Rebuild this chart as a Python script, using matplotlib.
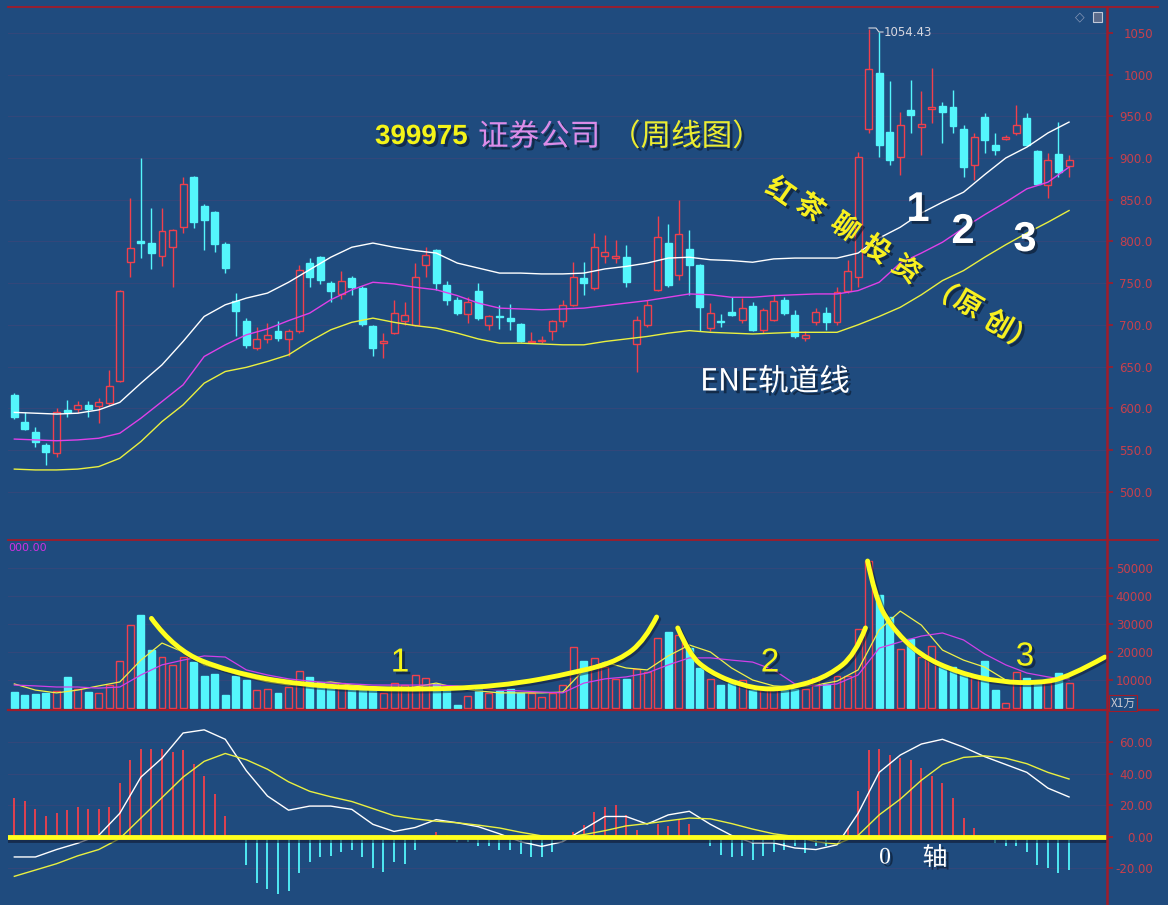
import matplotlib
matplotlib.use("Agg")
import matplotlib.pyplot as plt
import matplotlib.patheffects as pe
from matplotlib.patches import Rectangle, PathPatch
from matplotlib.path import Path
from matplotlib.lines import Line2D
import numpy as np

plt.rcParams['font.family'] = ['Noto Sans CJK SC', 'DejaVu Sans']

BG = '#1f4b7e'
RED = '#f0404c'
CYAN = '#54f6fc'
AXRED = '#a01c2a'
TICKRED = '#c8404c'
GRID = '#34477a'
YEL = '#f4f428'
MAG = '#e040e8'
W, H = 1168, 905

# weekly candles (399975)
opens = [616, 584, 572, 556, 546, 598, 599, 604, 603, 606,
         633, 775, 800, 798, 783, 793, 817, 877, 843, 835,
         797, 728, 705, 672, 683, 692, 683, 692, 774, 781,
         750, 737, 756, 744, 698, 678, 690, 705, 700, 772,
         790, 748, 730, 713, 741, 700, 711, 708, 701, 679,
         680, 692, 705, 724, 756, 744, 783, 780, 781, 677,
         700, 742, 798, 760, 791, 772, 696, 705, 715, 706,
         723, 694, 706, 730, 712, 684, 703, 714, 703, 741,
         757, 935, 1002, 931, 901, 958, 937, 959, 962, 961,
         935, 892, 949, 916, 923, 930, 948, 908, 868, 905, 890]
highs = [618, 596, 578, 558, 600, 610, 609, 609, 612, 646,
         742, 852, 900, 840, 840, 815, 877, 878, 845, 836,
         799, 738, 708, 697, 702, 705, 695, 772, 780, 783,
         752, 764, 758, 746, 700, 690, 730, 727, 774, 793,
         791, 752, 733, 733, 750, 712, 724, 725, 702, 691,
         686, 706, 730, 775, 775, 810, 808, 802, 796, 710,
         730, 831, 821, 850, 814, 773, 726, 713, 733, 732,
         727, 720, 736, 733, 718, 692, 720, 721, 745, 778,
         907, 1054.43, 1051, 992, 955, 994, 980, 1008, 967, 982,
         940, 930, 954, 930, 928, 964, 954, 909, 906, 943, 904]
lows = [587, 574, 554, 532, 542, 590, 594, 590, 582, 604,
        632, 757, 780, 767, 771, 745, 810, 816, 790, 787,
        762, 686, 672, 670, 678, 680, 662, 690, 745, 749,
        727, 731, 736, 698, 662, 660, 689, 700, 698, 757,
        742, 724, 712, 702, 706, 694, 695, 694, 679, 678,
        678, 682, 697, 722, 736, 742, 774, 774, 745, 643,
        697, 740, 745, 754, 736, 692, 692, 697, 711, 702,
        692, 690, 704, 712, 684, 681, 700, 694, 700, 738,
        745, 930, 901, 891, 879, 930, 904, 942, 918, 930,
        877, 874, 906, 904, 921, 928, 914, 868, 852, 877, 877]
closes = [590, 575, 559, 548, 595, 595, 604, 599, 607, 627,
          741, 792, 798, 786, 812, 814, 869, 823, 826, 797,
          768, 716, 676, 683, 688, 684, 693, 766, 757, 754,
          740, 753, 745, 701, 672, 681, 714, 712, 757, 784,
          750, 730, 714, 727, 708, 710, 709, 705, 680, 681,
          682, 704, 724, 757, 750, 793, 787, 782, 751, 706,
          724, 805, 748, 809, 772, 721, 714, 703, 712, 720,
          694, 718, 728, 714, 686, 688, 715, 703, 739, 765,
          901, 1007, 915, 898, 939, 952, 941, 961, 955, 938,
          889, 925, 921, 910, 925, 939, 916, 869, 897, 883, 897]
volume = [5700, 4600, 5000, 5400, 6100, 11200, 6700, 5800, 5400, 8300,
          16800, 29600, 33200, 20700, 18300, 15300, 18300, 16400, 11400, 12100,
          4600, 11400, 10000, 6400, 6800, 5400, 7500, 13200, 11200, 9300,
          7900, 8900, 7500, 6400, 7500, 5400, 8900, 8200, 11800, 10700,
          8600, 6800, 1100, 4300, 6800, 5400, 6100, 6800, 5400, 5400,
          4000, 5400, 8200, 21800, 16800, 17900, 14600, 10400, 10400, 13900,
          12900, 25000, 27000, 26000, 21400, 14300, 10400, 8200, 8900, 10000,
          6400, 6400, 6400, 6400, 6800, 6800, 10700, 8600, 11400, 11400,
          28200, 52500, 40400, 32500, 21100, 24600, 18300, 22100, 14600, 14600,
          12100, 10700, 16800, 6400, 1800, 12900, 10700, 9300, 8900, 12500, 8900]
macd_hist = [25, 23, 18, 13, 15, 17, 19, 18, 18, 19,
             34, 49, 56, 56, 56, 54, 55, 46, 39, 27,
             13, -1, -18, -29, -33, -36, -34, -23, -16, -13,
             -12, -9.5, -8, -13, -20, -22, -16, -17, -8, -2,
             3, 1, -3, -3, -6, -6, -8, -8, -11, -12.5,
             -12.5, -9.5, -3, 3, 7.6, 16, 19, 20, 14, 4.4,
             0.5, 8, 7, 11, 8, 0, -6, -11.5, -13, -12,
             -14.6, -12, -9.5, -8, -6, -10, -6, -6, 1, 6,
             29, 55, 56, 52, 50, 49, 44, 39, 34, 25,
             12, 6, 0, -4, -6, -6, -9.5, -18, -20, -23, -21]

# line series read every second week
ene_upper = [595, 594, 593, 594, 598, 607, 630, 652, 680, 710,
             724, 732, 738, 751, 766, 781, 793, 798, 793, 789,
             786, 774, 768, 762, 762, 761, 761, 762, 767, 770,
             774, 780, 781, 778, 777, 775, 779, 780, 780, 780,
             786, 804, 817, 834, 847, 859, 880, 900, 913, 930, 943]
ene_mid = [563, 562, 561, 562, 564, 570, 588, 608, 628, 662,
           676, 688, 695, 705, 714, 730, 742, 751, 749, 745,
           742, 735, 726, 720, 719, 718, 719, 720, 723, 726,
           729, 733, 737, 736, 733, 733, 735, 736, 737, 737,
           741, 751, 774, 786, 799, 816, 832, 847, 863, 871, 889]
ene_lower = [527, 526, 526, 527, 530, 540, 560, 584, 604, 630,
             644, 649, 656, 664, 680, 694, 703, 708, 703, 699,
             696, 690, 683, 678, 678, 677, 676, 676, 680, 683,
             686, 690, 693, 691, 690, 689, 690, 691, 691, 691,
             700, 710, 721, 736, 753, 765, 781, 796, 810, 823, 837]
vol_ma5 = [8600, 6400, 5400, 6400, 7900, 9300, 17100, 23200, 20000, 15400,
           13200, 11100, 9300, 8200, 8600, 9300, 8200, 7500, 6400, 7500,
           8900, 7100, 6100, 5400, 5400, 5400, 5700, 13600, 16400, 14300,
           13600, 18600, 22500, 20000, 14300, 10000, 7900, 7500, 8200, 9600,
           13600, 27900, 34600, 29600, 20700, 17100, 14600, 10000, 8900, 9300, 10700]
vol_ma10 = [8200, 7900, 7500, 7500, 7100, 7500, 11800, 15400, 17100, 18600,
            18200, 13600, 11800, 10400, 9600, 8900, 8600, 8200, 8200, 8200,
            8200, 7900, 7100, 6400, 6100, 5700, 5400, 8900, 10400, 11100,
            12500, 15400, 17900, 17900, 17100, 16400, 13600, 8600, 7900, 8600,
            11800, 21400, 23600, 25700, 26800, 24300, 19300, 15400, 12500, 11100, 10000]
dif = [-12.7, -12.7, -8, -4, 1, 15, 38, 50, 66, 68,
       62, 42, 26, 17, 19.6, 19.6, 17.5, 8, 3.5, 6,
       11, 9, 6.5, 2, -3, -6, -3, 5, 13, 13,
       8.2, 14, 16.3, 8, 1, -3.8, -3.8, -7, -8, -5,
       15, 41, 52, 59, 62, 57, 51, 46, 41, 31, 25.4]
dea = [-25, -21, -17, -12, -8, -1, 12, 25, 38, 48,
       53, 49, 43, 35, 29, 25.5, 22.5, 18, 13.5, 11.5,
       10, 9, 7.5, 5.7, 3, 0.7, -0.5, 1.5, 4, 7,
       8.5, 10.3, 12, 11.5, 8.5, 5, 2, 0.3, -3, -4.5,
       1, 14, 24, 36, 46, 50.5, 51.5, 50, 46.5, 41, 36.8]

price_ticks = [500, 550, 600, 650, 700, 750, 800, 850, 900, 950, 1000, 1050]
price_labels = ['500.0', '550.0', '600.0', '650.0', '700.0', '750.0', '800.0',
                '850.0', '900.0', '950.0', '1000', '1050']
vol_ticks = [10000, 20000, 30000, 40000, 50000]
vol_labels = ['10000', '20000', '30000', '40000', '50000']
macd_ticks = [-20, 0, 20, 40, 60]
macd_labels = ['-20.00', '0.00', '20.00', '40.00', '60.00']

# hand drawn arcs in the volume pane (week, volume)
arc1 = [(13.0, 32000), (15.2, 20700), (20.4, 12900), (27.1, 8200), (36.6, 6400),
        (46.0, 7600), (53.6, 12900), (57.4, 17100), (59.8, 24300), (60.9, 32500)]
arc2 = [(62.9, 28600), (64.0, 19000), (65.9, 12900), (68.8, 8200), (71.6, 6400),
        (74.5, 7900), (77.3, 11800), (79.7, 18900), (80.7, 28600)]
arc3 = [(80.9, 52500), (81.6, 40000), (83.0, 29600), (85.8, 18900), (89.6, 12500),
        (93.4, 9300), (97.2, 8900), (100.0, 11100), (103.4, 18200)]

n = len(opens)
x = np.arange(n)
x2 = x[::2]


def fx(px):
    return px / W


def fy(py):
    return 1 - py / H


fig = plt.figure(figsize=(11.68, 9.05), dpi=100, facecolor=BG)
L, R = 8, 1107


def mk(top, bottom):
    return fig.add_axes([fx(L), fy(bottom), (R - L) / W, (bottom - top) / H])


ax1 = mk(7, 540)
ax2 = mk(540, 710)
ax3 = mk(710, 905)
setup = [(ax1, (442, 1081), price_ticks, price_labels),
         (ax2, (-714, 60000), vol_ticks, vol_labels),
         (ax3, (-43.2, 80.6), macd_ticks, macd_labels)]
for ax, lim, tk, lb in setup:
    ax.set_facecolor(BG)
    ax.set_xlim(-0.6, 103.6)
    ax.set_ylim(*lim)
    for s in ax.spines.values():
        s.set_visible(False)
    ax.set_xticks([])
    ax.yaxis.tick_right()
    ax.set_yticks(tk)
    ax.set_yticklabels(lb)
    ax.tick_params(axis='y', color=AXRED, labelcolor=TICKRED, direction='out',
                   length=4, width=1.2, labelsize=8.5, pad=29)
    for t in ax.get_yticklabels():
        t.set_horizontalalignment('right')
        t.set_family(['DejaVu Sans'])
    ax.grid(axis='y', color=GRID, lw=0.7)
    ax.set_axisbelow(True)

bw = 0.66
# candles
for i in range(n):
    o, h, l, c = opens[i], highs[i], lows[i], closes[i]
    up = c >= o
    col = RED if up else CYAN
    ax1.vlines(i, l, h, color=col, lw=1, zorder=2)
    lo, hi = min(o, c), max(o, c)
    hgt = max(hi - lo, 1.2)
    ax1.add_patch(Rectangle((i - bw / 2, lo), bw, hgt, facecolor=BG if up else CYAN,
                            edgecolor=col, lw=1, zorder=3))

ax1.plot(x2, ene_upper, color='white', lw=1, zorder=4)
ax1.plot(x2, ene_mid, color=MAG, lw=1, zorder=4)
ax1.plot(x2, ene_lower, color='#eaf040', lw=1, zorder=4)

# volume
for i in range(n):
    up = closes[i] >= opens[i]
    ax2.add_patch(Rectangle((i - bw / 2, 0), bw, volume[i],
                            facecolor=BG if up else CYAN,
                            edgecolor=RED if up else CYAN, lw=1, zorder=2))
ax2.plot(x2, vol_ma5, color='#f0f048', lw=0.9, zorder=3)
ax2.plot(x2, vol_ma10, color='#d040e8', lw=0.9, zorder=3)


def smooth_path(pts):
    pts = np.asarray(pts, float)
    verts = [pts[0]]
    codes = [Path.MOVETO]
    for k in range(1, len(pts) - 1):
        end = (pts[k] + pts[k + 1]) / 2 if k < len(pts) - 2 else pts[k + 1]
        verts += [pts[k], end]
        codes += [Path.CURVE3, Path.CURVE3]
    return Path(verts, codes)


for arc in (arc1, arc2, arc3):
    ax2.add_patch(PathPatch(smooth_path(arc), fill=False, edgecolor='#ffff1e', lw=3.5,
                            capstyle='round', joinstyle='round', zorder=5,
                            path_effects=[pe.SimpleLineShadow(offset=(1.5, -1.5),
                                                              shadow_color='#101830', alpha=0.5),
                                          pe.Normal()]))

# macd
hcols = [RED if v > 0 else CYAN for v in macd_hist]
ax3.vlines(x, 0, macd_hist, colors=hcols, lw=1.3, zorder=2)
ax3.plot(x2, dif, color='white', lw=1, zorder=3)
ax3.plot(x2, dea, color='#eaf040', lw=1, zorder=3)
ax3.axhline(0, color='#ffff1e', lw=3.5, zorder=4,
            path_effects=[pe.SimpleLineShadow(offset=(1, -2), shadow_color='#101830', alpha=0.6), pe.Normal()])

# frame lines
for (xa, ya, xb, yb, lw) in [(8, 7, 1158, 7, 1.3), (8, 540, 1158, 540, 1.3),
                             (8, 710, 1158, 710, 1.6), (1107, 7, 1107, 905, 1.8)]:
    fig.add_artist(Line2D([fx(xa), fx(xb)], [fy(ya), fy(yb)], color=AXRED, lw=lw))

shadow = [pe.withSimplePatchShadow(offset=(2, -2), shadow_rgbFace='#0a1628', alpha=0.6)]

fig.text(fx(375), fy(137), '399975', color='#f4f418', fontsize=20, weight='bold',
         family=['Liberation Sans'], va='center', path_effects=shadow)
fig.text(fx(478), fy(137), '证券公司', color='#dc8ce8', fontsize=22, va='center',
         path_effects=shadow)
fig.text(fx(610), fy(137), '（周线图）', color='#ecec30', fontsize=22, va='center',
         path_effects=shadow)
fig.text(fx(700), fy(382), 'ENE轨道线', color='white', fontsize=22, va='center',
         path_effects=shadow)

hand = [('红', 780, 192, -35), ('茶', 810, 208, -35), ('聊', 845, 228, -35),
        ('投', 876, 250, -35), ('资', 906, 270, -35), ('（', 942, 290, -38),
        ('原', 968, 305, -30), ('创', 998, 325, -30), ('）', 1022, 340, -30)]
for ch, hx, hy, rot in hand:
    fig.text(fx(hx), fy(hy), ch, color='#f8f020', fontsize=20, weight='bold',
             rotation=rot, ha='center', va='center', path_effects=shadow)

for t, hx, hy in [('1', 918, 210), ('2', 963, 232), ('3', 1025, 240)]:
    fig.text(fx(hx), fy(hy), t, color='white', fontsize=30, weight='bold',
             family=['Liberation Sans'], ha='center', va='center', path_effects=shadow)

for t, hx, hy in [('1', 400, 663), ('2', 770, 663), ('3', 1025, 657)]:
    fig.text(fx(hx), fy(hy), t, color='#f4f418', fontsize=24,
             family=['Liberation Sans'], ha='center', va='center', path_effects=shadow)

fig.text(fx(885), fy(858), '0', color='white', fontsize=17, family=['Liberation Serif'],
         ha='center', va='center', path_effects=shadow)
fig.text(fx(935), fy(858), '轴', color='white', fontsize=18, ha='center', va='center',
         path_effects=shadow)

# max label
fig.add_artist(Line2D([fx(869), fx(876), fx(879), fx(883)], [fy(28), fy(28), fy(32), fy(32)],
                      color='#d8d8e0', lw=0.8))
fig.text(fx(884), fy(33), '1054.43', color='#d8d8e0', fontsize=8.5,
         family=['DejaVu Sans'], va='center')

fig.text(fx(8), fy(548), '000.00', color='#d030e0', fontsize=8, family=['DejaVu Sans'],
         va='center')
fig.text(fx(1123), fy(703), 'X1万', color='#c8c8d0', fontsize=8.5, ha='center', va='center',
         bbox=dict(facecolor=BG, edgecolor=AXRED, pad=1.2, lw=0.8))
fig.text(fx(1080), fy(17), '◇', color='#8898b8', fontsize=9, family=['DejaVu Sans'],
         ha='center', va='center')
fig.add_artist(Rectangle((fx(1093), fy(22)), 9 / W, 10 / H, facecolor='#5a6a8a',
                         edgecolor='#c0c8d8', lw=0.8))

fig.savefig('out.png', dpi=100, facecolor=BG)
